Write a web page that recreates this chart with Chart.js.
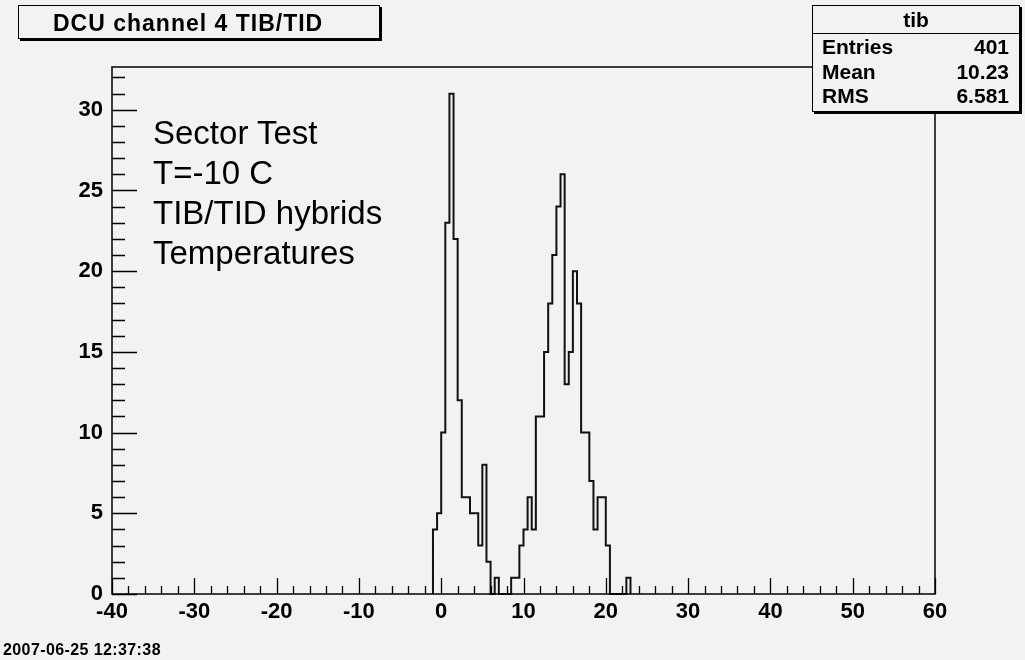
<!DOCTYPE html>
<html>
<head>
<meta charset="utf-8">
<script src="https://cdn.jsdelivr.net/npm/chart.js@4.4.1/dist/chart.umd.min.js"></script>
<style>
html,body{margin:0;padding:0;background:#f2f2f2;}
#wrap{position:relative;width:1025px;height:660px;background:#f2f2f2;overflow:hidden;font-family:"Liberation Sans",Arial,sans-serif;color:#000;}
#c{position:absolute;left:0;top:0;}
.box{position:absolute;box-sizing:border-box;border:1px solid #000;box-shadow:2px 2px 0 #000;background:#f2f2f2;}
#title{left:18px;top:5px;width:362px;height:34px;font-weight:bold;font-size:23px;letter-spacing:1px;line-height:32px;padding-left:34px;padding-top:1px;white-space:nowrap;}
#stats{left:812px;top:5px;width:208px;height:107px;font-weight:bold;font-size:21px;}
#stats .hdr{position:absolute;left:0;top:0;width:100%;height:27px;border-bottom:1px solid #000;text-align:center;line-height:28px;}
#stats .lab{position:absolute;left:9px;line-height:24px;}
#stats .val{position:absolute;right:10px;line-height:24px;text-align:right;}
#note{position:absolute;left:153px;top:113px;font-size:33px;line-height:40px;white-space:nowrap;}
#date{position:absolute;left:3px;top:642px;font-size:16px;letter-spacing:0.4px;font-weight:bold;line-height:16px;white-space:nowrap;}
</style>
</head>
<body>
<div id="wrap">
  <canvas id="c" width="1025" height="660"></canvas>
  <div id="title" class="box"></div>
  <div id="stats" class="box"></div>
  <div id="note"></div>
  <div id="date"></div>
</div>
<script>
// ---------- data ----------
const titleText = "DCU channel 4 TIB/TID";
const histName = "tib";
const statLabels = ["Entries", "Mean", "RMS"];
const statValues = ["401", "10.23", "6.581"];
const noteLines = ["Sector Test", "T=-10 C", "TIB/TID hybrids", "Temperatures"];
const dateText = "2007-06-25 12:37:38";

const binWidth = 0.5;
const binLowEdges = [
  -1.0, -0.5, 0.0, 0.5, 1.0, 1.5, 2.0, 2.5, 3.0, 3.5, 4.0, 4.5, 5.0, 5.5, 6.0, 6.5,
  7.0, 7.5, 8.0, 8.5, 9.0, 9.5, 10.0, 10.5, 11.0, 11.5, 12.0, 12.5, 13.0, 13.5, 14.0, 14.5,
  15.0, 15.5, 16.0, 16.5, 17.0, 17.5, 18.0, 18.5, 19.0, 19.5, 20.0, 20.5, 21.0, 21.5, 22.0, 22.5
];
const binCounts = [
  4, 5, 10, 23, 31, 22, 12, 6, 6, 5, 5, 3, 8, 2, 0, 1,
  0, 0, 0, 1, 1, 3, 4, 6, 4, 11, 11, 15, 18, 21, 24, 26,
  13, 15, 20, 18, 10, 10, 7, 4, 6, 6, 3, 0, 0, 0, 0, 1
];
const xTickValues = [-40, -30, -20, -10, 0, 10, 20, 30, 40, 50, 60];
const yTickValues = [0, 5, 10, 15, 20, 25, 30];
const xRange = [-40, 60];
const yRange = [0, 32.65];

// ---------- HTML text ----------
document.getElementById('title').textContent = titleText;
const st = document.getElementById('stats');
let h = '<div class="hdr">' + histName + '</div>';
const rowTops = [34, 59, 83];
statLabels.forEach((l, i) => {
  h += '<div class="lab" style="top:' + (rowTops[i] - 5) + 'px">' + l + '</div>';
  h += '<div class="val" style="top:' + (rowTops[i] - 5) + 'px">' + statValues[i] + '</div>';
});
st.innerHTML = h;
document.getElementById('note').innerHTML = noteLines.map(s => '<div>' + s + '</div>').join('');
document.getElementById('date').textContent = dateText;

// ---------- histogram outline points ----------
const histPoints = [{x: binLowEdges[0], y: 0}];
binLowEdges.forEach((lo, i) => {
  histPoints.push({x: lo, y: binCounts[i]});
  histPoints.push({x: lo + binWidth, y: binCounts[i]});
});
histPoints.push({x: binLowEdges[binLowEdges.length - 1] + binWidth, y: 0});

const FONT = '"Liberation Sans", Arial, sans-serif';

const framePlugin = {
  id: 'rootFrame',
  afterDatasetsDraw(chart) {
    const ctx = chart.ctx;
    const a = chart.chartArea;
    const xs = chart.scales.x, ys = chart.scales.y;
    ctx.save();
    ctx.strokeStyle = '#000';
    ctx.lineWidth = 1.5;
    ctx.strokeRect(a.left, a.top, a.right - a.left, a.bottom - a.top);
    ctx.lineWidth = 1.3;
    ctx.beginPath();
    for (let v = xRange[0]; v <= xRange[1]; v += 2) {
      const px = Math.round(xs.getPixelForValue(v)) + 0.5;
      const len = (v % 10 === 0) ? 16 : 8;
      ctx.moveTo(px, a.bottom);
      ctx.lineTo(px, a.bottom - len);
    }
    for (let v = 0; v <= Math.floor(yRange[1]); v += 1) {
      const py = Math.round(ys.getPixelForValue(v)) + 0.5;
      const len = (v % 5 === 0) ? 25 : 13;
      ctx.moveTo(a.left, py);
      ctx.lineTo(a.left + len, py);
    }
    ctx.stroke();
    ctx.restore();
  }
};

new Chart(document.getElementById('c'), {
  type: 'line',
  data: {
    datasets: [{
      data: histPoints,
      borderColor: '#111',
      borderWidth: 2,
      pointRadius: 0,
      tension: 0,
      fill: false,
      clip: 2
    }]
  },
  options: {
    responsive: false,
    animation: false,
    devicePixelRatio: 1,
    layout: {padding: {top: 67, right: 90, bottom: 0, left: 0}},
    plugins: {legend: {display: false}, tooltip: {enabled: false}, title: {display: false}},
    scales: {
      x: {
        type: 'linear',
        min: xRange[0], max: xRange[1],
        grid: {display: false, drawTicks: false},
        border: {display: false},
        afterBuildTicks: (s) => { s.ticks = xTickValues.map(v => ({value: v})); },
        afterFit: (s) => { s.height = 66; },
        ticks: {
          autoSkip: false, maxRotation: 0, padding: 5, color: '#000',
          font: {family: FONT, size: 22, weight: 'bold'},
          callback: (v) => String(v)
        }
      },
      y: {
        type: 'linear',
        min: yRange[0], max: yRange[1],
        grid: {display: false, drawTicks: false},
        border: {display: false},
        afterBuildTicks: (s) => { s.ticks = yTickValues.map(v => ({value: v})); },
        afterFit: (s) => { s.width = 112; },
        ticks: {
          autoSkip: false, padding: 9, color: '#000',
          font: {family: FONT, size: 22, weight: 'bold'},
          callback: (v) => String(v)
        }
      }
    }
  },
  plugins: [framePlugin]
});
</script>
</body>
</html>
